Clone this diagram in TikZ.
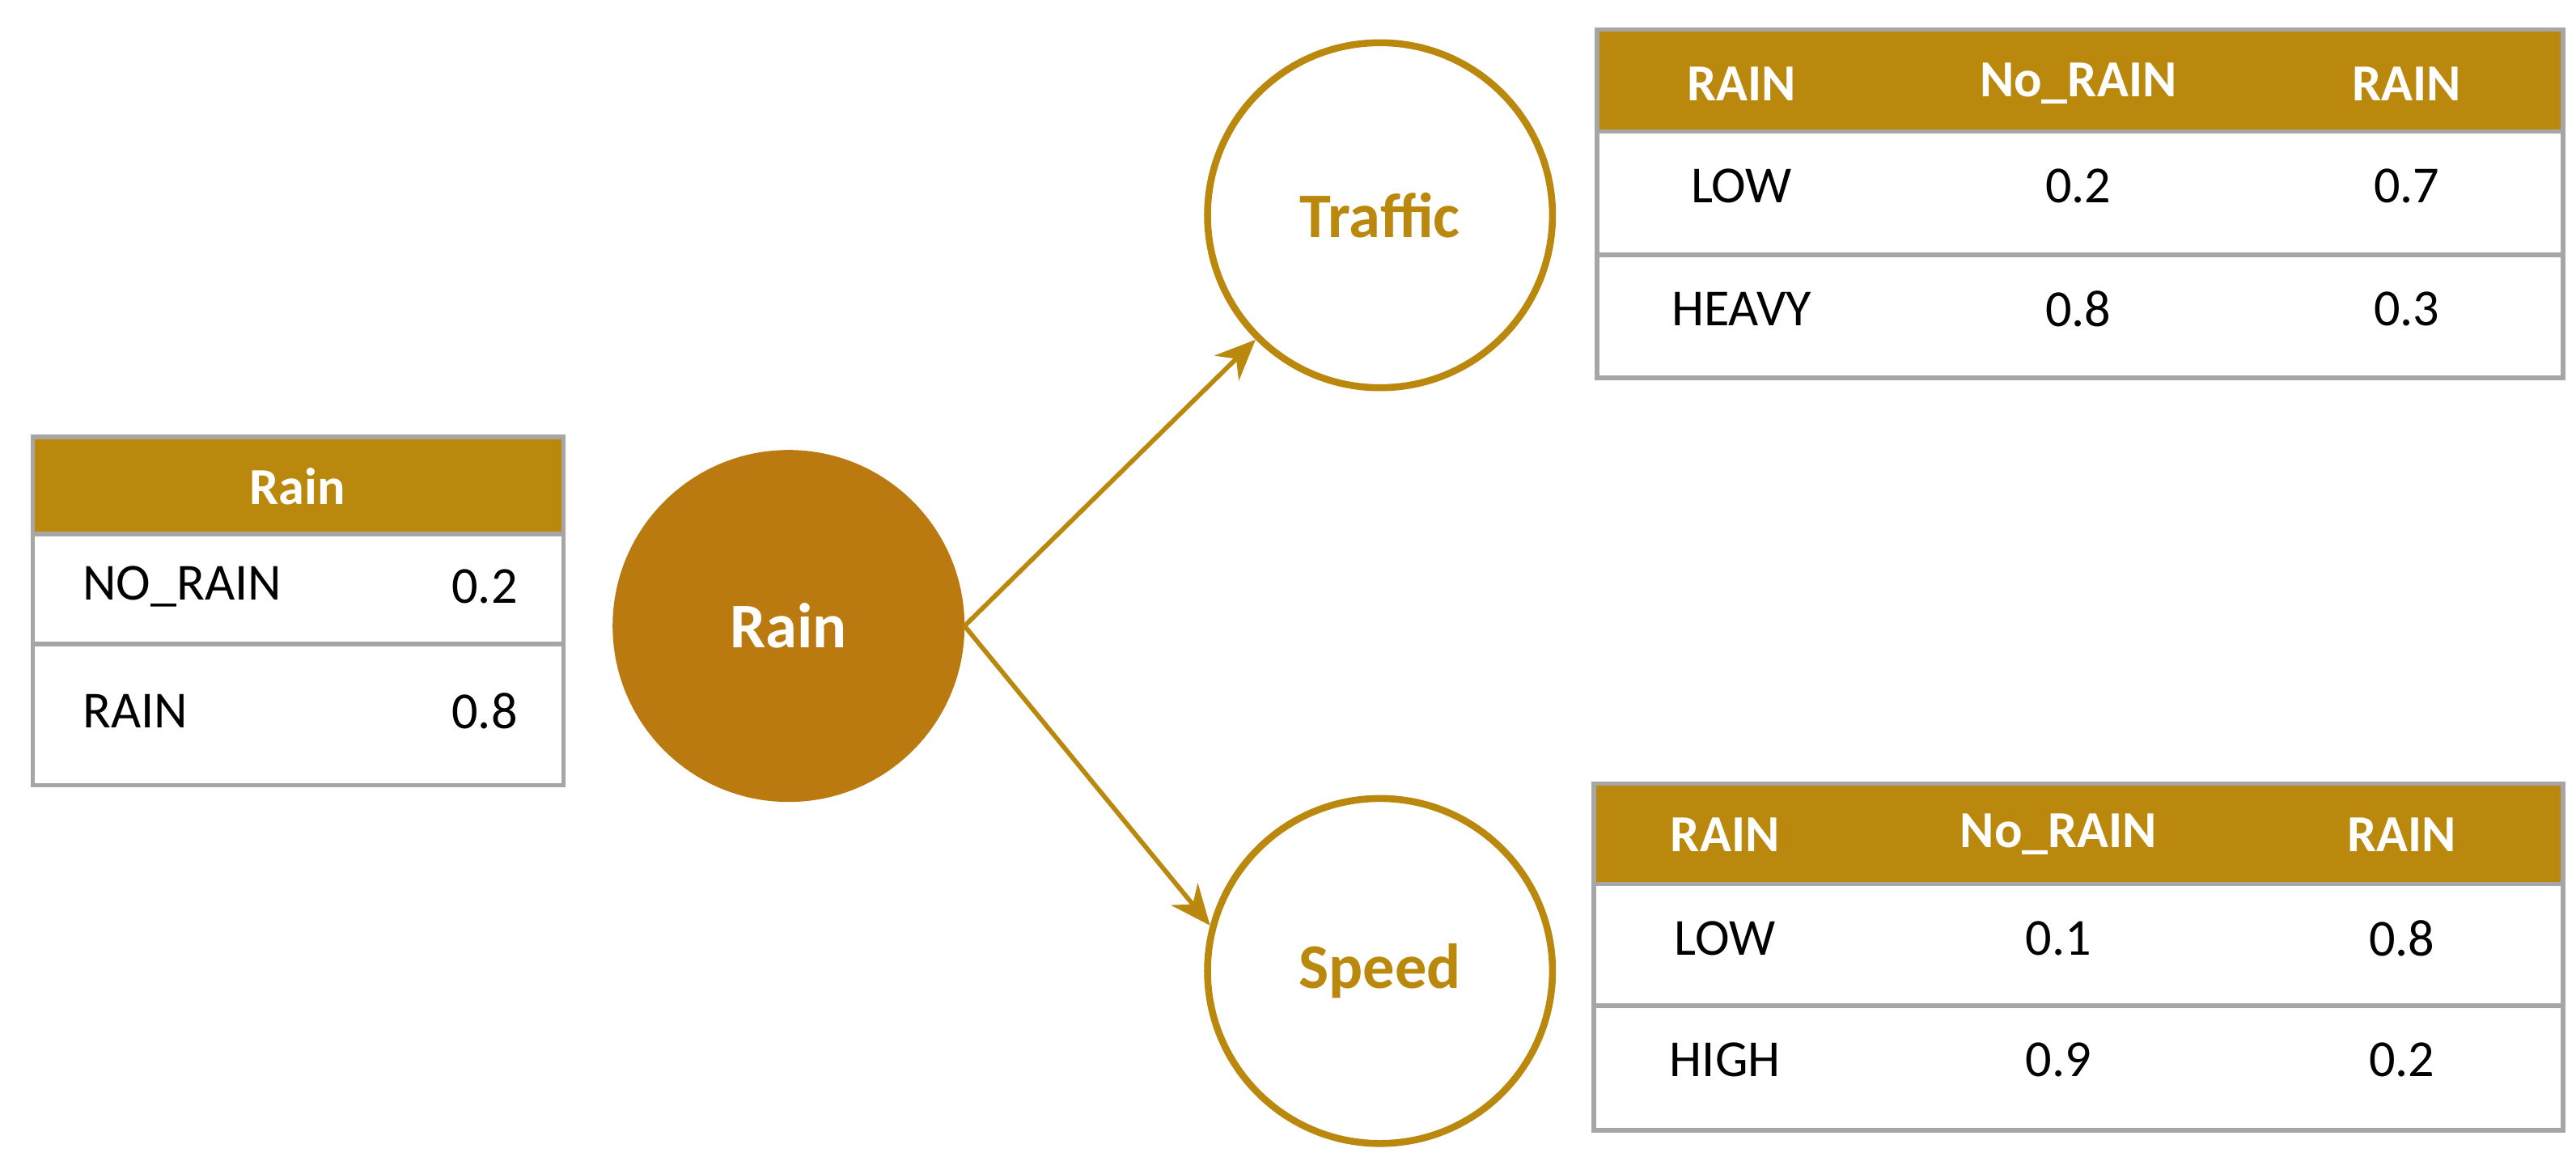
\documentclass[tikz,border=0pt]{standalone}
\usepackage{fontspec}
\setmainfont{Carlito}
\definecolor{gold}{HTML}{BA880D}
\definecolor{rainfill}{HTML}{BB7A10}
\usetikzlibrary{arrows.meta}
\tikzset{
  head/.style={fill=gold,draw=gray!70},
  box/.style={draw=gray!70,line width=0.8pt},
  hd/.style={text=white,font=\fontsize{9}{10}\selectfont\bfseries},
  cell/.style={font=\fontsize{9}{10}\selectfont},
  var/.style={circle,minimum size=2.1cm,line width=1.2pt,draw=gold,fill=white,text=gold,font=\fontsize{11}{12}\selectfont\bfseries},
  link/.style={draw=gold,line width=0.8pt,-{Stealth[length=7pt,width=6pt]}}
}
\begin{document}
\begin{tikzpicture}
  \useasboundingbox (0,0) rectangle (15.68,7.04);
  % prior table
  \fill[head] (0.20,4.38) rectangle (3.43,3.79);
  \draw[box] (0.20,4.38) rectangle (3.43,2.26);
  \draw[box] (0.20,3.79) -- (3.43,3.79);
  \draw[box] (0.20,3.12) -- (3.43,3.12);
  \node[hd] (ph) at (1.81,4.08) {Rain};
  \node[cell,anchor=west] (pa) at (0.38,3.47) {NO\_RAIN};
  \node[cell] (pav) at (2.95,3.47) {0.2};
  \node[cell,anchor=west] (pb) at (0.38,2.71) {RAIN};
  \node[cell] (pbv) at (2.95,2.71) {0.8};
  % nodes
  \node[var,fill=rainfill,draw=rainfill,text=white] (rain) at (4.80,3.23) {Rain};
  \node[var] (traffic) at (8.40,5.73) {Traffic};
  \node[var] (speed) at (8.40,1.13) {Speed};
  \draw[link] (rain.east) -- (traffic.225);
  \draw[link] (rain.east) -- (speed.165);
  % traffic table
  \fill[head] (9.72,6.86) rectangle (15.60,6.24);
  \draw[box] (9.72,6.86) rectangle (15.60,4.74);
  \draw[box] (9.72,6.24) -- (15.60,6.24);
  \draw[box] (9.72,5.49) -- (15.60,5.49);
  \node[hd] (t1) at (10.60,6.53) {RAIN};
  \node[hd] (t2) at (12.65,6.53) {No\_RAIN};
  \node[hd] (t3) at (14.65,6.53) {RAIN};
  \node[cell] (ta) at (10.60,5.91) {LOW};
  \node[cell] (tb) at (12.65,5.91) {0.2};
  \node[cell] (tc) at (14.65,5.91) {0.7};
  \node[cell] (td) at (10.60,5.16) {HEAVY};
  \node[cell] (te) at (12.65,5.16) {0.8};
  \node[cell] (tf) at (14.65,5.16) {0.3};
  % speed table
  \fill[head] (9.70,2.27) rectangle (15.60,1.66);
  \draw[box] (9.70,2.27) rectangle (15.60,0.16);
  \draw[box] (9.70,1.66) -- (15.60,1.66);
  \draw[box] (9.70,0.92) -- (15.60,0.92);
  \node[hd] (s1) at (10.50,1.96) {RAIN};
  \node[hd] (s2) at (12.53,1.96) {No\_RAIN};
  \node[hd] (s3) at (14.62,1.96) {RAIN};
  \node[cell] (sa) at (10.50,1.33) {LOW};
  \node[cell] (sb) at (12.53,1.33) {0.1};
  \node[cell] (sc) at (14.62,1.33) {0.8};
  \node[cell] (sd) at (10.50,0.59) {HIGH};
  \node[cell] (se) at (12.53,0.59) {0.9};
  \node[cell] (sf) at (14.62,0.59) {0.2};
\end{tikzpicture}
\end{document}
